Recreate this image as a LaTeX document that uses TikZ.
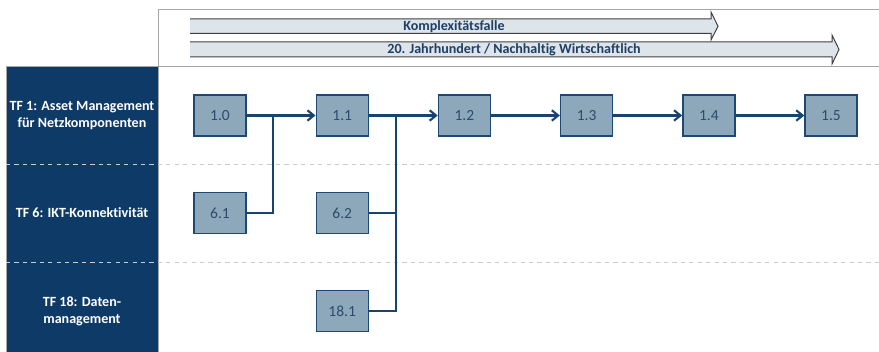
\documentclass[tikz,border=0pt]{standalone}
\usepackage{fontspec}
\setmainfont[Ligatures=NoCommon]{Carlito}
\usetikzlibrary{arrows.meta}
\definecolor{tfnavy}{HTML}{0E3A67}
\definecolor{boxfill}{HTML}{8DA8BA}
\definecolor{boxline}{HTML}{1D4871}
\definecolor{boxtext}{HTML}{2E4A6C}
\definecolor{linkblue}{HTML}{17436F}
\definecolor{bandfill}{HTML}{DDE4EA}
\definecolor{bandtext}{HTML}{1F3F66}
\begin{document}
\begin{tikzpicture}[x=.25mm,y=.25mm,
	tfbox/.style={draw=boxline,fill=boxfill,line width=1pt,minimum width=13mm,minimum height=10.25mm,inner sep=0pt,text=boxtext,font=\fontsize{11}{13}\selectfont},
	link/.style={draw=linkblue,line width=1.5pt},
	tip/.style={-{Straight Barb[length=1.6mm,width=2.6mm]}},
	tflabel/.style={text=white,font=\bfseries\fontsize{10}{12}\selectfont,align=center},
	bandlabel/.style={text=bandtext,font=\bfseries\fontsize{10}{12}\selectfont,inner sep=0pt},
	bandline/.style={draw=black!75,line width=.7pt}]
\def\ya{236.5}\def\yb{139}\def\yc{41}\def\dx{122.2}
\useasboundingbox(0,0)rectangle(879,352);
\fill[tfnavy](6,0)rectangle(158,286);
\draw[black!35,line width=.6pt]
	(6,0)|-(158,286)--(158,0)
	(158,286)|-(879,343)
	(158,286)--(879,286);
\draw[black!20,dashed,line width=.5pt]
	(6,188)--(879,188)
	(6,90)--(879,90);
\path[fill=bandfill](190,333)--(711,333)--(711,340)--(718,325.75)--(711,312)--(711,318.5)--(190,318.5)--cycle;
\draw[bandline](190,333)--(711,333)--(711,340)--(718,325.75)--(711,312)--(711,318.5)--(190,318.5);
\node[bandlabel](kf)at(454,325.75){Komplexitätsfalle};
\path[fill=bandfill](190,310)--(832,310)--(832,317)--(839,302.5)--(832,288)--(832,295)--(190,295)--cycle;
\draw[bandline](190,310)--(832,310)--(832,317)--(839,302.5)--(832,288)--(832,295)--(190,295);
\node[bandlabel](jh)at(514,302.5){20. Jahrhundert / Nachhaltig Wirtschaftlich};
\node[tflabel](tf1)at(82,\ya){TF 1: Asset Management\\für Netzkomponenten};
\node[tflabel](tf6)at(82,\yb){TF 6: IKT-Konnektivität};
\node[tflabel](tf18)at(82,\yc){TF 18: Daten-\\management};
\foreach\t[count=\i from 0]in{1.0,1.1,1.2,1.3,1.4,1.5}
	\node[tfbox](a\i)at(220+\dx*\i,\ya){\t};
\node[tfbox](b0)at(220,\yb){6.1};
\node[tfbox](b1)at(220+\dx,\yb){6.2};
\node[tfbox](c1)at(220+\dx,\yc){18.1};
\coordinate(j1)at(273,\ya);
\coordinate(j2)at(396,\ya);
\draw[link](b0.east)-|(j1);
\draw[link](b1.east)-|(j2);
\draw[link](c1.east)-|(j2);
\foreach\i in{0,...,4}{
	\pgfmathtruncatemacro\j{\i+1}
	\draw[link,tip](a\i)--(a\j);}
\end{tikzpicture}
\end{document}
